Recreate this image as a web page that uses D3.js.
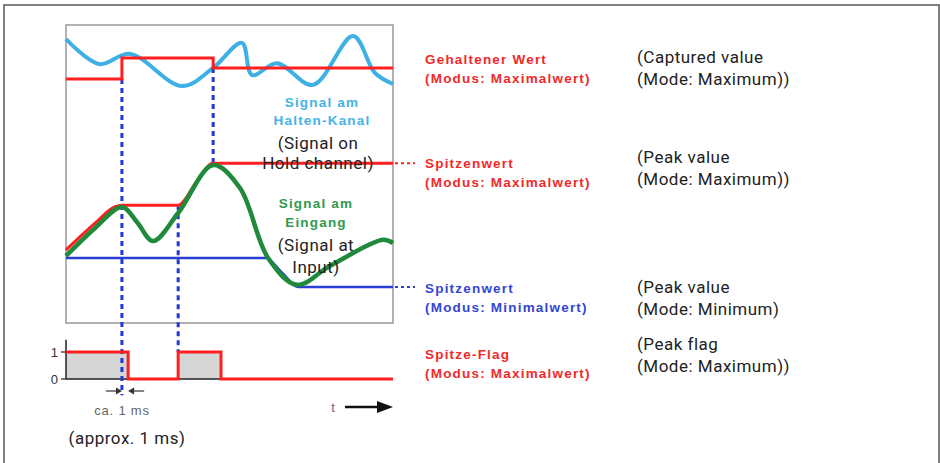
<!DOCTYPE html>
<html>
<head>
<meta charset="utf-8">
<script src="https://cdn.jsdelivr.net/npm/d3@7"></script>
<style>
  body { margin: 0; background: #fff; }
  .de { font-family: "Liberation Sans", Arial, sans-serif; font-weight: bold; font-size: 13.5px; letter-spacing: 1.2px; }
  .en { font-family: Roboto, "Noto Sans", sans-serif; font-size: 17px; letter-spacing: 0.5px; fill: #222; }
</style>
</head>
<body>
<svg id="chart"></svg>
<script>
// time runs 0..10 (arbitrary units), upper signals 0..10, flag 0/1
const holdSignal = [[0,9.53],[1.01,8.69],[1.96,9.03],[3.55,7.95],[4.50,8.56],[5.38,9.40],[5.69,8.32],
  [6.45,8.72],[7.55,7.99],[8.78,9.63],[9.45,8.39],[10,8.02]];
const heldValue = [[0,8.19],[1.71,8.89],[4.50,8.56],[10,8.56]];
const inputSignal = [[0,2.25],[0.89,3.19],[1.71,3.89],[2.17,3.39],[2.66,2.75],[3.43,3.69],[4.50,5.30],
  [5.32,4.53],[6.18,2.18],[7.06,1.28],[8.07,1.91],[9.69,2.79],[10,2.68]];
const peakMax = [[0,2.45],[0.89,3.35],[1.5,3.9],[1.71,3.95],[3.43,3.95],[4.0,4.75],[4.5,5.36],[10,5.36]];
const peakMin = [[0,2.18],[6.1,2.18],[6.6,1.7],[7.1,1.21],[10,1.21]];
const peakFlag = [[0,1],[1.90,0],[3.43,1],[4.74,0],[10,0]];
const flagTicks = [0, 1];

// dashed markers: time, from (upper value), to (flag value or upper value)
const markers = [
  {t: 1.71, from: 8.19, toFlag: -0.6},
  {t: 3.43, from: 3.95, toFlag: 1},
  {t: 4.50, from: 8.56, toUpper: 5.36}
];

const holdLabel = ["Signal am", "Halten-Kanal"];
const holdLabelEn = ["(Signal on", "Hold channel)"];
const inputLabel = ["Signal am", "Eingang"];
const inputLabelEn = ["(Signal at", "Input)"];
const rightLabels = [
  {de: ["Gehaltener Wert", "(Modus: Maximalwert)"], en: ["(Captured value", "(Mode: Maximum))"], color: "#f02a2a", yDe: 59, yEn: 57},
  {de: ["Spitzenwert", "(Modus: Maximalwert)"], en: ["(Peak value", "(Mode: Maximum))"], color: "#f02a2a", yDe: 163, yEn: 157},
  {de: ["Spitzenwert", "(Modus: Minimalwert)"], en: ["(Peak value", "(Mode: Minimum)"], color: "#3446d0", yDe: 288, yEn: 287},
  {de: ["Spitze-Flag", "(Modus: Maximalwert)"], en: ["(Peak flag", "(Mode: Maximum))"], color: "#f02a2a", yDe: 354, yEn: 344}
];

const width = 940, height = 463;
const svg = d3.select("#chart").attr("width", width).attr("height", height);

const x = d3.scaleLinear().domain([0, 10]).range([66, 393]);
const y = d3.scaleLinear().domain([0, 10]).range([323, 25]);
const yFlag = d3.scaleLinear().domain([0, 1]).range([379, 352]);

// outer frame (no bottom edge)
svg.append("path").attr("d", "M4,463V5H939V463").attr("fill", "none").attr("stroke", "#555").attr("stroke-width", 1.5);

// plot box
svg.append("rect").attr("x", x(0)).attr("y", y(10)).attr("width", x(10) - x(0)).attr("height", y(0) - y(10))
  .attr("fill", "none").attr("stroke", "#999").attr("stroke-width", 1.5);

const line = (curve, sy) => d3.line().x(d => x(d[0])).y(d => sy(d[1])).curve(curve);

// peak flag panel
svg.append("path").datum(peakFlag)
  .attr("d", d3.area().curve(d3.curveStepAfter).x(d => x(d[0])).y0(yFlag(0)).y1(d => yFlag(d[1])))
  .attr("fill", "#d6d6d6");
svg.append("line").attr("x1", x(0)).attr("x2", x(10)).attr("y1", yFlag(0)).attr("y2", yFlag(0))
  .attr("stroke", "#222").attr("stroke-width", 1.5);
svg.append("line").attr("x1", x(0)).attr("x2", x(0)).attr("y1", yFlag(1.45)).attr("y2", yFlag(0))
  .attr("stroke", "#222").attr("stroke-width", 1.5);
svg.selectAll(".ftick").data(flagTicks).join("line").attr("class", "ftick")
  .attr("x1", x(0) - 5).attr("x2", x(0)).attr("y1", d => yFlag(d)).attr("y2", d => yFlag(d))
  .attr("stroke", "#222").attr("stroke-width", 1.2);
svg.selectAll(".flabel").data(flagTicks).join("text").attr("class", "flabel")
  .attr("x", x(0) - 8).attr("y", d => yFlag(d) + 5).attr("text-anchor", "end")
  .attr("font-family", "Liberation Sans, Arial, sans-serif").attr("font-size", 13).attr("fill", "#333")
  .text(d => d);

// hold channel signal
svg.append("path").datum(holdSignal).attr("d", line(d3.curveCatmullRom, y))
  .attr("fill", "none").attr("stroke", "#3fb0e4").attr("stroke-width", 4).attr("stroke-linejoin", "round");

// dashed markers
svg.selectAll(".marker").data(markers).join("line").attr("class", "marker")
  .attr("x1", d => x(d.t)).attr("x2", d => x(d.t))
  .attr("y1", d => y(d.from))
  .attr("y2", d => d.toUpper !== undefined ? y(d.toUpper) : yFlag(d.toFlag))
  .attr("stroke", "#2338d0").attr("stroke-width", 3).attr("stroke-dasharray", "5,4");

// held value step
svg.append("path").datum(heldValue).attr("d", line(d3.curveStepAfter, y))
  .attr("fill", "none").attr("stroke", "#ff1f1f").attr("stroke-width", 3);

// peak max / min
svg.append("path").datum(peakMax).attr("d", line(d3.curveMonotoneX, y))
  .attr("fill", "none").attr("stroke", "#ff1f1f").attr("stroke-width", 3);
svg.append("path").datum(peakMin).attr("d", line(d3.curveMonotoneX, y))
  .attr("fill", "none").attr("stroke", "#2a3fd6").attr("stroke-width", 2.5);

// input signal
svg.append("path").datum(inputSignal).attr("d", line(d3.curveCatmullRom, y))
  .attr("fill", "none").attr("stroke", "#1f8a3a").attr("stroke-width", 4.5).attr("stroke-linejoin", "round");

// flag line
svg.append("path").datum(peakFlag).attr("d", line(d3.curveStepAfter, yFlag))
  .attr("fill", "none").attr("stroke", "#ff1f1f").attr("stroke-width", 3);

// dotted extensions to the labels
[[5.36, "#ff1f1f"], [1.21, "#2a3fd6"]].forEach(([v, c]) => {
  svg.append("line").attr("x1", x(10) + 2).attr("x2", x(10) + 22).attr("y1", y(v)).attr("y2", y(v))
    .attr("stroke", c).attr("stroke-width", 2).attr("stroke-dasharray", "3,3");
});

// labels inside the plot
const block = (lines, cls, cx, cy, dy, color, anchor) => {
  const t = svg.append("text").attr("class", cls).attr("text-anchor", anchor || "middle");
  if (color) t.attr("fill", color);
  lines.forEach((s, i) => t.append("tspan").attr("x", cx).attr("y", cy + i * dy).text(s));
};
block(holdLabel, "de", 322, 107, 18, "#45b3e5");
block(holdLabelEn, "en", 318, 149, 20);
block(inputLabel, "de", 316, 208, 19, "#2f9a4c");
block(inputLabelEn, "en", 316, 251, 22);

// right-hand labels
rightLabels.forEach(r => {
  block(r.de, "de", 425, r.yDe + 5, 19, r.color, "start");
  block(r.en, "en", 637, r.yEn + 6, 22, null, "start");
});

// ca. 1 ms arrows
const ay = 391;
const arrowHead = (tipX, dir) => `M${tipX},${ay}l${-dir * 6},-3.5v7z`;
svg.append("line").attr("x1", x(1.71) - 16).attr("x2", x(1.71) - 3).attr("y1", ay).attr("y2", ay).attr("stroke", "#333").attr("stroke-width", 1.2);
svg.append("path").attr("d", arrowHead(x(1.71), 1)).attr("fill", "#333");
svg.append("line").attr("x1", x(1.90) + 3).attr("x2", x(1.90) + 16).attr("y1", ay).attr("y2", ay).attr("stroke", "#333").attr("stroke-width", 1.2);
svg.append("path").attr("d", arrowHead(x(1.90), -1)).attr("fill", "#333");
svg.append("text").attr("x", 122).attr("y", 415).attr("text-anchor", "middle")
  .attr("font-family", "Liberation Sans, Arial, sans-serif").attr("font-size", 13).attr("letter-spacing", 0.8).attr("fill", "#666")
  .text("ca. 1 ms");
svg.append("text").attr("class", "en").attr("x", 127).attr("y", 444).attr("text-anchor", "middle")
  .text("(approx. 1 ms)");

// time arrow
svg.append("text").attr("x", 333).attr("y", 412).attr("text-anchor", "middle")
  .attr("font-family", "Liberation Sans, Arial, sans-serif").attr("font-size", 13).attr("fill", "#666").text("t");
svg.append("line").attr("x1", 345).attr("x2", 380).attr("y1", 407).attr("y2", 407).attr("stroke", "#111").attr("stroke-width", 2.5);
svg.append("path").attr("d", "M393,407L377,401V413Z").attr("fill", "#111");
</script>
</body>
</html>
